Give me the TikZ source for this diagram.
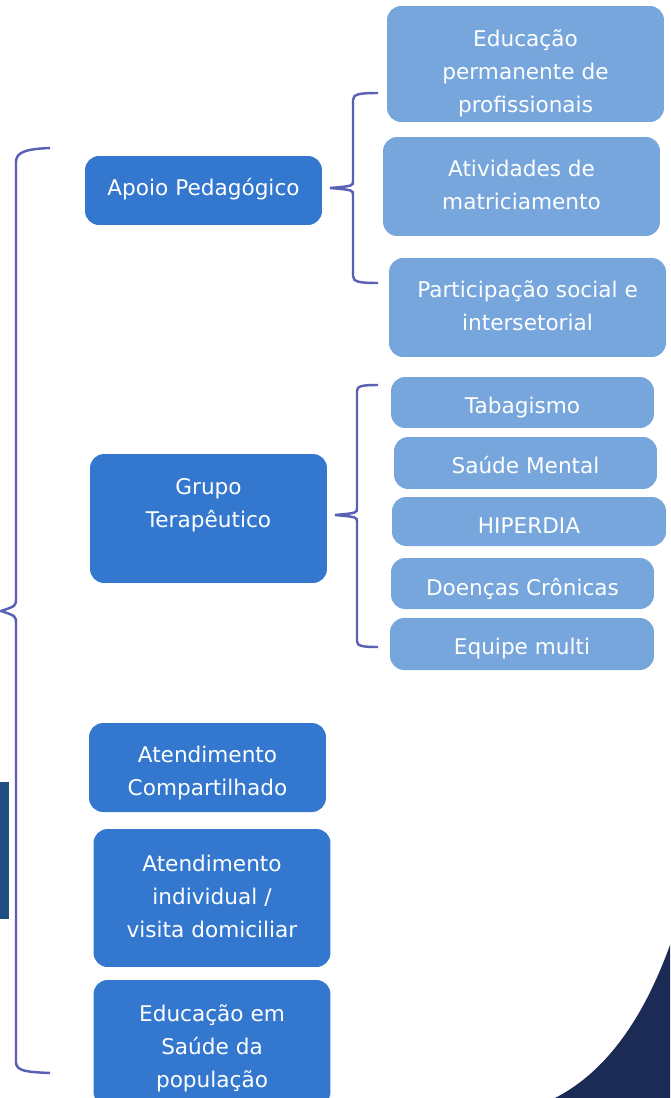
\documentclass[tikz,border=0pt]{standalone}
\usepackage{fontspec}
\setmainfont{DejaVu Sans}
\definecolor{mainblue}{HTML}{3378CE}
\definecolor{lightblue}{HTML}{76A6DC}
\definecolor{bracecol}{HTML}{5A60B4}
\definecolor{darknavy}{HTML}{1C2A56}
\definecolor{darkbar}{HTML}{1F4E80}

\begin{document}
\begin{tikzpicture}[x=0.02cm, y=-0.02cm,
    mainbox/.style={rounded corners=8pt, fill=mainblue, inner sep=0pt, minimum width=4.74cm},
    subbox/.style={rounded corners=8pt, fill=lightblue, inner sep=0pt, minimum width=5.54cm},
    boxtext/.style={text=white, align=center, inner sep=0pt, font=\fontsize{12.3}{18.8}\selectfont},
    brace/.style={draw=bracecol, line width=1.4pt}]
    \useasboundingbox (0,0) rectangle (670,1098);
    \clip (0,0) rectangle (670,1098);
    \fill[darknavy] (670,945) .. controls (640,1028) and (600,1075) .. (555,1098)
      -- (670,1098) -- cycle;
    \fill[darkbar] (0,782) rectangle (9,919);

    % left column
    \node[mainbox, minimum height=1.38cm] (ap) at (203.5,190.5) {};
    \node[boxtext] (ap-t) at (203.5,189.5) {Apoio Pedagógico};
    \node[mainbox, minimum height=2.58cm] (gt) at (208.5,518.5) {};
    \node[boxtext] (gt-t) at (208.5,505.5) {Grupo\\Terapêutico};
    \node[mainbox, minimum height=1.78cm] (ac) at (207.5,767.5) {};
    \node[boxtext] (ac-t) at (207.5,773.5) {Atendimento\\Compartilhado};
    \node[mainbox, minimum height=2.76cm] (ai) at (212,898) {};
    \node[boxtext] (ai-t) at (212,896) {Atendimento\\individual /\\visita domiciliar};
    \node[mainbox, minimum height=2.52cm] (es) at (212,1043) {};
    \node[boxtext] (es-t) at (212,1048) {Educação em\\Saúde da\\população};

    % Apoio Pedagogico items
    \node[subbox, minimum height=2.32cm] (ep) at (525.5,64) {};
    \node[boxtext] (ep-t) at (525.5,73) {Educação\\permanente de\\profissionais};
    \node[subbox, minimum height=1.98cm] (am) at (521.5,186.5) {};
    \node[boxtext] (am-t) at (521.5,184.5) {Atividades de\\matriciamento};
    \node[subbox, minimum height=1.98cm] (ps) at (527.5,307.5) {};
    \node[boxtext] (ps-t) at (527.5,305.5) {Participação social e\\intersetorial};

    % Grupo Terapeutico items
    \node[subbox, minimum width=5.26cm, minimum height=1.02cm] (tb) at (522.5,402.5) {};
    \node[boxtext] (tb-t) at (522.5,407.5) {Tabagismo};
    \node[subbox, minimum width=5.26cm, minimum height=1.04cm] (sm) at (525.5,463) {};
    \node[boxtext] (sm-t) at (525.5,465) {Saúde Mental};
    \node[subbox, minimum width=5.48cm, minimum height=0.98cm] (hd) at (529,521.5) {};
    \node[boxtext] (hd-t) at (529,525.5) {HIPERDIA};
    \node[subbox, minimum width=5.26cm, minimum height=1.02cm] (dc) at (522.5,583.5) {};
    \node[boxtext] (dc-t) at (522.5,588.5) {Doenças Crônicas};
    \node[subbox, minimum width=5.28cm, minimum height=1.04cm] (em) at (522,644) {};
    \node[boxtext] (em-t) at (522,649) {Equipe multi};

    % braces
    \draw[brace] (50,148) .. controls (26,149) and (16,152) .. (16,162) -- (16,598)
      .. controls (16,606) .. (1,611) .. controls (16,616) .. (16,624) -- (16,1062)
      .. controls (16,1071) and (26,1072) .. (50,1073);
    \draw[brace] (378,93) .. controls (360,93) and (353,94) .. (353,100) -- (353,181)
      .. controls (353,186) .. (330,188) .. controls (353,190) .. (353,195) -- (353,276)
      .. controls (353,282) and (360,283) .. (378,283);
    \draw[brace] (378,385) .. controls (362,385) and (357,386) .. (357,391) -- (357,508)
      .. controls (357,513) .. (335,515) .. controls (357,517) .. (357,522) -- (357,641)
      .. controls (357,646) and (362,647) .. (378,647);
  \end{tikzpicture}
\end{document}
